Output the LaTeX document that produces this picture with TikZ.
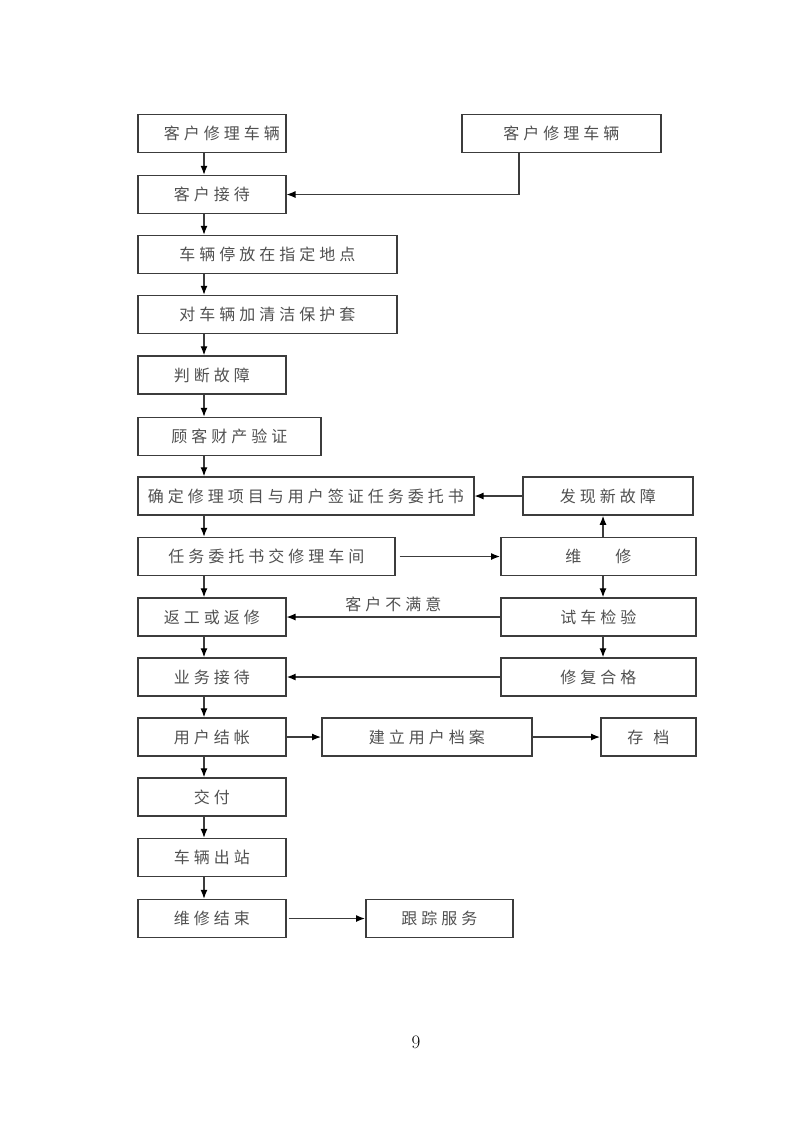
\documentclass[tikz,border=0pt]{standalone}
\usepackage{fontspec}
\newfontfamily\cjk[LetterSpace=25]{Noto Sans CJK SC}
\usetikzlibrary{arrows.meta}
\definecolor{txtgray}{RGB}{80,80,80}
\definecolor{linegray}{RGB}{60,60,60}
\tikzset{
  stepbox/.style={draw=linegray, line width=1.5pt, minimum height=38pt,
    anchor=west, inner sep=0pt, text=txtgray,
    font=\cjk\fontsize{16}{16}\selectfont},
  flow/.style={draw=linegray, line width=1.2pt,
    -{Latex[length=9pt,width=7pt,color=black]}},
}
\begin{document}
\begin{tikzpicture}[x=1pt, y=-1pt]
  \useasboundingbox (0,0) rectangle (793,1122);
  % main column
  \node[stepbox, minimum width=148pt] (n1) at (137,133.5) {\hspace*{20pt}客户修理车辆};
  \node[stepbox, minimum width=148pt] (n2) at (137,194.5) {客户接待};
  \node[stepbox, minimum width=259pt] (n3) at (137,254.5) {车辆停放在指定地点};
  \node[stepbox, minimum width=259pt] (n4) at (137,314.5) {对车辆加清洁保护套};
  \node[stepbox, minimum width=148pt] (n5) at (137,375) {判断故障};
  \node[stepbox, minimum width=183pt] (n6) at (137,436.5) {顾客财产验证};
  \node[stepbox, minimum width=336pt] (n7) at (137,496) {确定修理项目与用户签证任务委托书};
  \node[stepbox, minimum width=257pt] (n8) at (137,556.5) {任务委托书交修理车间};
  \node[stepbox, minimum width=148pt] (n9) at (137,617) {返工或返修};
  \node[stepbox, minimum width=148pt] (n10) at (137,677) {业务接待};
  \node[stepbox, minimum width=148pt] (n11) at (137,737) {用户结帐};
  \node[stepbox, minimum width=148pt] (n12) at (137,797) {交付};
  \node[stepbox, minimum width=148pt] (n13) at (137,857.5) {车辆出站};
  \node[stepbox, minimum width=148pt] (n14) at (137,918.5) {维修结束};
  % side boxes
  \node[stepbox, minimum width=199pt] (kh) at (461,133.5) {客户修理车辆};
  \node[stepbox, minimum width=170pt] (fx) at (522,496) {发现新故障};
  \node[stepbox, minimum width=195pt] (wx) at (500,556.5) {维\hspace{34pt}修};
  \node[stepbox, minimum width=195pt] (sc) at (500,617) {试车检验};
  \node[stepbox, minimum width=195pt] (xf) at (500,677) {修复合格};
  \node[stepbox, minimum width=210pt] (da) at (321,737) {建立用户档案};
  \node[stepbox, minimum width=95pt] (cd) at (600,737) {存\hspace{10pt}档};
  \node[stepbox, minimum width=147pt] (gz) at (365,918.5) {跟踪服务};
  \coordinate (lcol) at (204,0);
  \coordinate (rcol) at (603,0);
  \coordinate (kcol) at (519,0);
  \foreach \a/\b in {n1/n2, n2/n3, n3/n4, n4/n5, n5/n6, n6/n7, n7/n8,
      n8/n9, n9/n10, n10/n11, n11/n12, n12/n13, n13/n14}
    \draw[flow] (\a.south -| lcol) -- (\b.north -| lcol);
  \draw[flow] (kh.south -| kcol) |- (n2.east);
  \draw[flow] (fx.west) -- (n7.east);
  \draw[flow] ([xshift=4pt]n8.east) -- (wx.west);
  \draw[flow] (wx.north -| rcol) -- (fx.south -| rcol);
  \draw[flow] (wx.south -| rcol) -- (sc.north -| rcol);
  \draw[flow] (sc.south -| rcol) -- (xf.north -| rcol);
  \draw[flow] (sc.west) -- (n9.east)
    node[midway, above=1pt, text=txtgray, font=\cjk\fontsize{16}{16}\selectfont] {客户不满意};
  \draw[flow, line width=2.6pt] (xf.west) -- (n10.east);
  \draw[flow] (n11.east) -- (da.west);
  \draw[flow] (da.east) -- (cd.west);
  \draw[flow] ([xshift=2pt]n14.east) -- (gz.west);
  \node[font=\fontsize{19}{19}\selectfont] (pg) at (416,1042) {9};
\end{tikzpicture}
\end{document}
